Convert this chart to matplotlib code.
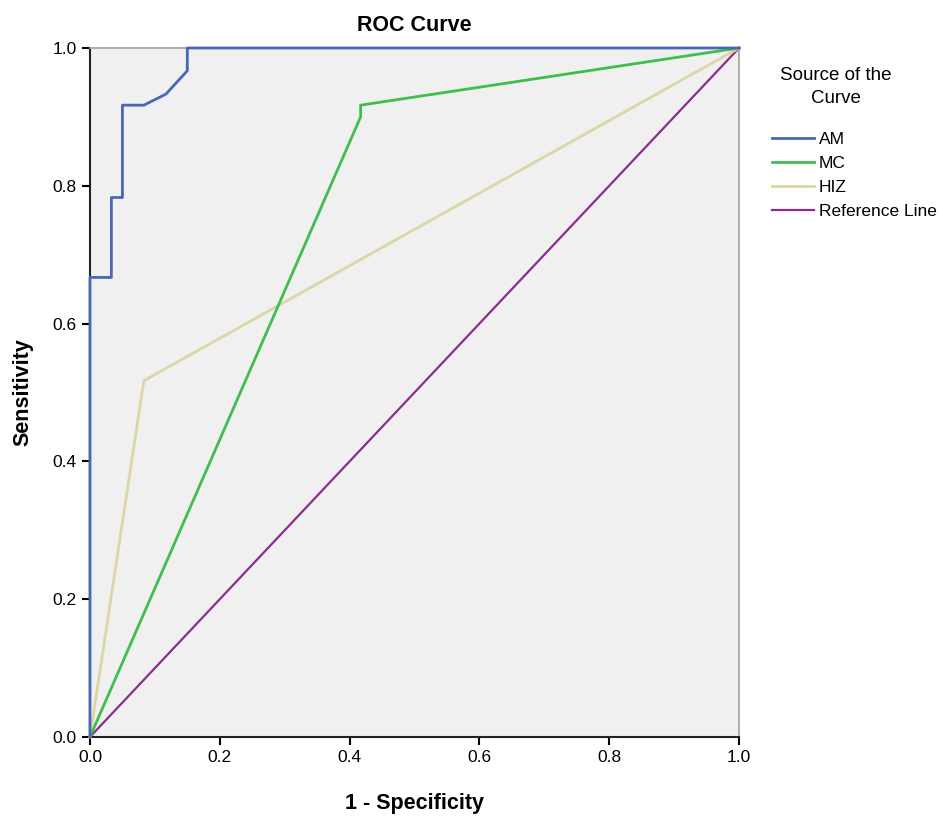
import matplotlib.pyplot as plt

am_fpr = [0.0, 0.0, 0.033, 0.033, 0.05, 0.05, 0.083, 0.117, 0.15, 0.15, 1.0]
am_tpr = [0.0, 0.667, 0.667, 0.783, 0.783, 0.917, 0.917, 0.933, 0.967, 1.0, 1.0]

mc_fpr = [0.0, 0.417, 0.417, 1.0]
mc_tpr = [0.0, 0.9, 0.917, 1.0]

hiz_fpr = [0.0, 0.083, 1.0]
hiz_tpr = [0.0, 0.517, 1.0]

ref_x = [0.0, 1.0]
ref_y = [0.0, 1.0]

ticks = [0.0, 0.2, 0.4, 0.6, 0.8, 1.0]

plt.rcParams['font.family'] = ['Liberation Sans', 'DejaVu Sans']

fig = plt.figure(figsize=(9.43, 8.23), dpi=100)
ax = fig.add_axes([0.0954, 0.1045, 0.6883, 0.8372])
ax.set_facecolor("#F0F0F0")

ax.plot(ref_x, ref_y, color="#8B2D8F", lw=1.6, label="Reference Line", zorder=3, clip_on=False)
ax.plot(hiz_fpr, hiz_tpr, color="#DCD6A4", lw=2, label="HIZ", zorder=3, clip_on=False)
ax.plot(mc_fpr, mc_tpr, color="#3EBE4E", lw=2, label="MC", zorder=3, clip_on=False)
ax.plot(am_fpr, am_tpr, color="#4A66B8", lw=2, label="AM", zorder=4, clip_on=False)

ax.set_xlim(0, 1)
ax.set_ylim(0, 1)
ax.set_xticks(ticks)
ax.set_yticks(ticks)
ax.set_xticklabels(["%.1f" % t for t in ticks])
ax.set_yticklabels(["%.1f" % t for t in ticks])
ax.tick_params(direction="out", length=6, width=1.5, labelsize=12.5)

for s in ["left", "bottom"]:
    ax.spines[s].set_color("#222222")
    ax.spines[s].set_linewidth(1.5)
for s in ["top", "right"]:
    ax.spines[s].set_color("#A0A0A0")
    ax.spines[s].set_linewidth(1.2)

ax.set_title("ROC Curve", fontsize=15.5, fontweight="bold", pad=12)
ax.set_xlabel("1 - Specificity", fontsize=15.5, fontweight="bold", labelpad=20)
ax.set_ylabel("Sensitivity", fontsize=15.5, fontweight="bold", labelpad=14)

fig.text(0.886, 0.918, "Source of the\nCurve", ha="center", va="top", fontsize=13.5,
         linespacing=1.4)
handles, labels = ax.get_legend_handles_labels()
ax.legend(handles[::-1], labels[::-1], loc="upper left", bbox_to_anchor=(1.04, 0.888),
          frameon=False, fontsize=12.5, handlelength=2.4, handletextpad=0.3,
          labelspacing=0.5, borderaxespad=0)

fig.savefig("out.png", dpi=100)
